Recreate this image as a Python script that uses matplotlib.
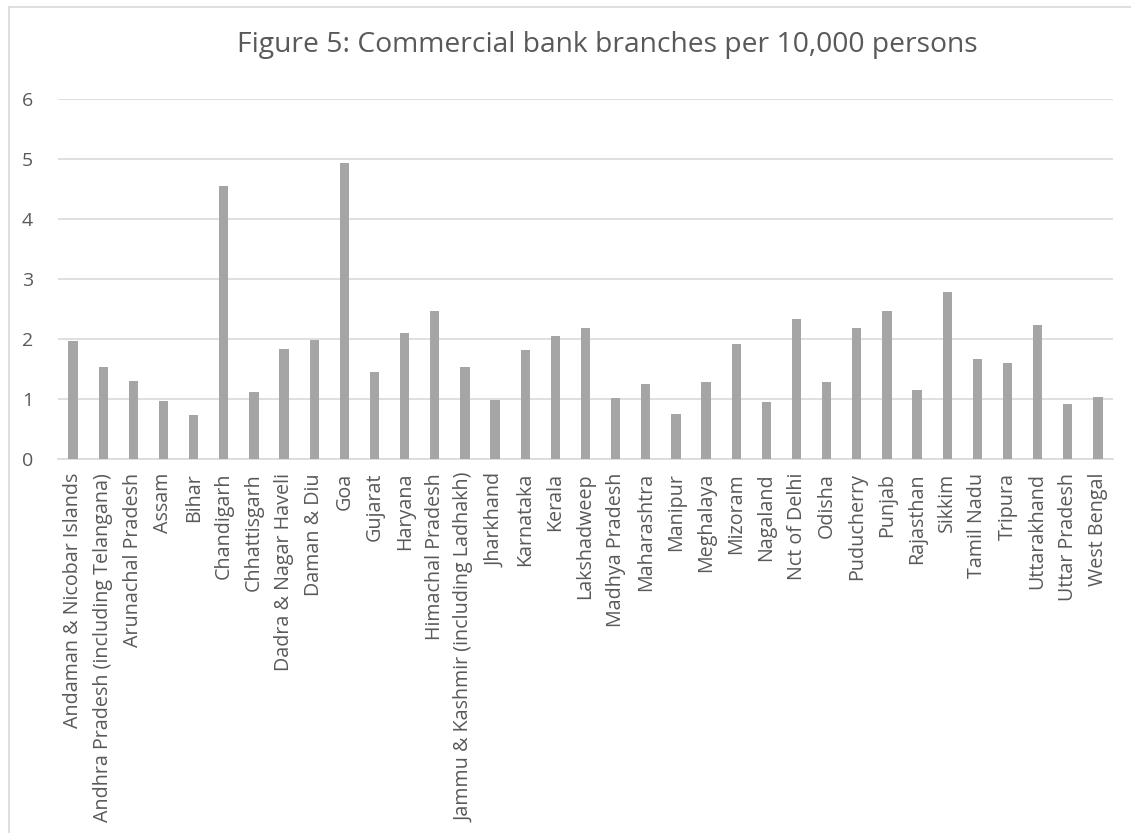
import matplotlib.pyplot as plt
from matplotlib.lines import Line2D

states = [
    "Andaman & Nicobar Islands", "Andhra Pradesh (including Telangana)",
    "Arunachal Pradesh", "Assam", "Bihar", "Chandigarh", "Chhattisgarh",
    "Dadra & Nagar Haveli", "Daman & Diu", "Goa", "Gujarat", "Haryana",
    "Himachal Pradesh", "Jammu & Kashmir (including Ladhakh)", "Jharkhand",
    "Karnataka", "Kerala", "Lakshadweep", "Madhya Pradesh", "Maharashtra",
    "Manipur", "Meghalaya", "Mizoram", "Nagaland", "Nct of Delhi", "Odisha",
    "Puducherry", "Punjab", "Rajasthan", "Sikkim", "Tamil Nadu", "Tripura",
    "Uttarakhand", "Uttar Pradesh", "West Bengal",
]
branches = [
    1.97, 1.54, 1.30, 0.97, 0.73, 4.55, 1.12, 1.84, 1.99, 4.94, 1.45, 2.10,
    2.47, 1.54, 0.98, 1.81, 2.05, 2.19, 1.01, 1.25, 0.75, 1.29, 1.92, 0.95,
    2.34, 1.29, 2.19, 2.47, 1.15, 2.78, 1.67, 1.60, 2.24, 0.92, 1.03,
]
yticks = [0, 1, 2, 3, 4, 5, 6]

plt.rcParams['font.family'] = ['Open Sans', 'DejaVu Sans']

fig = plt.figure(figsize=(11.31, 8.33), dpi=100)
ax = fig.add_axes([58 / 1131, 1 - 459 / 833, (1113 - 58) / 1131, (459 - 99) / 833])

x = range(len(states))
ax.bar(x, branches, width=0.31, color='#A5A5A5', zorder=3)

ax.set_ylim(0, 6)
ax.set_xlim(-0.5, len(states) - 0.5)
ax.set_yticks(yticks)
ax.set_yticklabels([str(v) for v in yticks])
ax.set_xticks(list(x))
ax.set_xticklabels(states, rotation=90, fontsize=14.2, color='#595959')
ax.tick_params(axis='x', length=0, pad=10)
ax.tick_params(axis='y', length=0, pad=18, labelsize=14, labelcolor='#595959')
ax.yaxis.grid(True, color='#D9D9D9', linewidth=1.2, zorder=0)
for s in ['top', 'right', 'left']:
    ax.spines[s].set_visible(False)
ax.spines['bottom'].set_color('#D9D9D9')
ax.spines['bottom'].set_linewidth(1.2)

fig.text(607 / 1131, 1 - 45 / 833, 'Figure 5: Commercial bank branches per 10,000 persons',
         ha='center', va='center', fontsize=20.3, color='#595959')

# chart frame (cropped on right and bottom)
fig.add_artist(Line2D([9 / 1131, 9 / 1131], [0, 1 - 7 / 833], color='#D9D9D9', linewidth=1.2))
fig.add_artist(Line2D([9 / 1131, 1], [1 - 7 / 833, 1 - 7 / 833], color='#D9D9D9', linewidth=1.2))

plt.savefig('out.png', dpi=100)
